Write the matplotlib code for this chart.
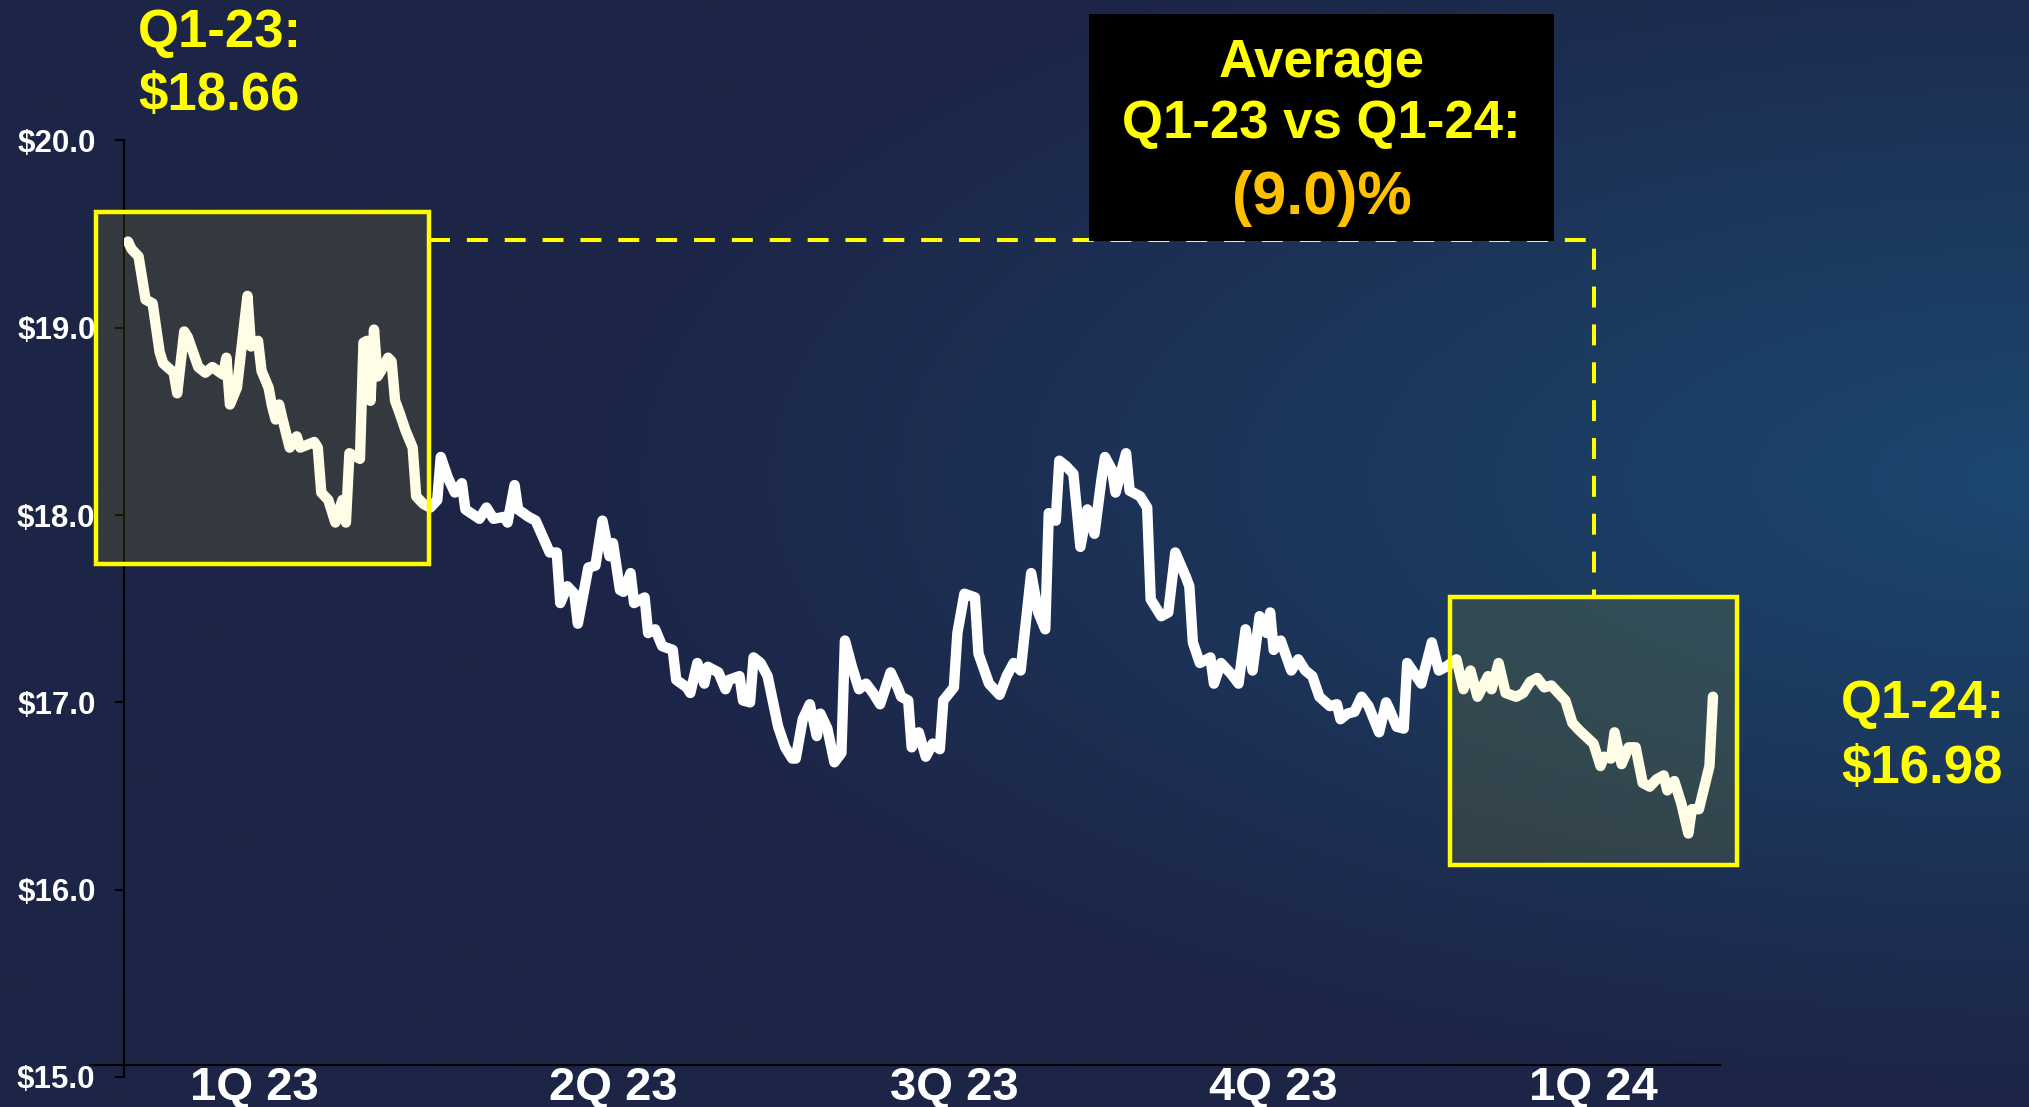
import numpy as np
import matplotlib

matplotlib.use("Agg")
import matplotlib.pyplot as plt  # noqa: E402
from matplotlib.lines import Line2D  # noqa: E402
from matplotlib.patches import Rectangle  # noqa: E402
from matplotlib.transforms import blended_transform_factory  # noqa: E402

# calendar days since 1 Jan 2023 and the price on that day ($)
day = [
    0, 1, 3, 5, 7, 9, 10, 13, 14, 16, 17, 20, 22, 24, 27, 28, 29, 31, 34, 35,
    37, 38, 40, 41, 42, 43, 44, 46, 48, 49, 53, 54, 55, 57, 59, 61, 62, 63, 66, 67,
    68, 69, 70, 71, 72, 74, 75, 76, 77, 79, 81, 82, 84, 86, 88, 89,
    91, 93, 95, 96, 100, 102, 104, 107, 108, 110, 111, 114, 116, 120, 122, 123, 125, 127, 128, 131,
    133, 135, 137, 138, 140, 141, 143, 144, 147, 148, 150, 152, 155, 156, 159, 160, 162, 164, 165, 168,
    170, 171, 174, 175, 177, 178, 180, 182, 183, 185, 187, 189, 190, 192, 194, 196, 197, 199, 201, 203,
    204, 206, 208, 210, 212, 214, 217, 219, 220, 222, 223, 225, 227, 229, 231, 232, 235, 236, 238, 241,
    242, 245, 248, 250, 252, 254, 257, 259, 261, 262, 264, 265, 267, 269, 271, 273, 275, 277, 278, 280,
    281, 284, 285, 288, 290, 291, 294, 296, 298, 301, 302, 303, 305, 308, 309, 311, 314, 316, 318, 320,
    322, 324, 325, 326, 328, 331, 333, 335, 337, 339, 342, 344, 345, 347, 349, 351, 353, 356, 358, 359,
    361, 363, 364, 368, 371, 373, 375, 378, 380, 382, 384, 387, 388, 390, 392, 395, 397, 399, 401, 403,
    405, 407, 409, 411, 413, 417, 419, 420, 422, 423, 425, 427, 429, 431, 433, 435, 437, 438, 440, 442,
    444, 445, 447, 450, 451,
]
price = [
    19.46, 19.42, 19.38, 19.15, 19.13, 18.87, 18.81, 18.76, 18.65, 18.98, 18.95, 18.79, 18.76, 18.79, 18.75, 18.84, 18.59, 18.68, 19.17, 18.90,
    18.93, 18.77, 18.68, 18.58, 18.51, 18.59, 18.51, 18.36, 18.42, 18.36, 18.39, 18.36, 18.12, 18.08, 17.96, 18.08, 17.96, 18.33, 18.30, 18.92,
    18.93, 18.61, 18.99, 18.74, 18.77, 18.84, 18.82, 18.61, 18.56, 18.45, 18.36, 18.10, 18.06, 18.04, 18.08, 18.31,
    18.20, 18.12, 18.17, 18.03, 17.98, 18.04, 17.98, 17.99, 17.96, 18.16, 18.03, 17.99, 17.97, 17.80, 17.80, 17.53, 17.62, 17.58, 17.42, 17.72,
    17.73, 17.97, 17.78, 17.85, 17.60, 17.59, 17.69, 17.53, 17.56, 17.37, 17.39, 17.30, 17.28, 17.12, 17.08, 17.05, 17.21, 17.10, 17.19, 17.16,
    17.07, 17.12, 17.14, 17.01, 17.00, 17.24, 17.21, 17.14, 17.05, 16.87, 16.76, 16.70, 16.70, 16.91, 16.99, 16.82, 16.94, 16.86, 16.68, 16.73,
    17.33, 17.19, 17.07, 17.10, 17.05, 16.99, 17.16, 17.08, 17.03, 17.01, 16.76, 16.84, 16.71, 16.78, 16.75, 17.01, 17.08, 17.37, 17.58, 17.56,
    17.26, 17.10, 17.04, 17.14, 17.21, 17.17, 17.69, 17.48, 17.39, 18.01, 17.97, 18.29, 18.26, 18.22, 17.83, 18.03, 17.90, 18.19, 18.31, 18.24,
    18.12, 18.33, 18.13, 18.10, 18.04, 17.55, 17.46, 17.48, 17.80, 17.67, 17.62, 17.32, 17.21, 17.24, 17.10, 17.21, 17.15, 17.10, 17.39, 17.17,
    17.46, 17.37, 17.48, 17.28, 17.33, 17.17, 17.23, 17.17, 17.14, 17.03, 16.98, 16.99, 16.91, 16.94, 16.95, 17.03, 16.98, 16.84, 17.00, 16.96,
    16.87, 16.86, 17.21, 17.10, 17.32, 17.17, 17.19, 17.23, 17.07, 17.17, 17.03, 17.14, 17.07, 17.21, 17.05, 17.03, 17.05, 17.11, 17.13, 17.08,
    17.09, 17.05, 17.01, 16.89, 16.85, 16.78, 16.66, 16.71, 16.70, 16.84, 16.67, 16.76, 16.76, 16.57, 16.55, 16.59, 16.61, 16.53, 16.58, 16.46,
    16.30, 16.43, 16.43, 16.66, 17.03,
]

quarter_labels = ["1Q 23", "2Q 23", "3Q 23", "4Q 23", "1Q 24"]
quarter_label_day = [36, 138, 235, 326, 417]
y_ticks = [15, 16, 17, 18, 19, 20]

q1_23_avg = 18.66
q1_24_avg = 16.98

YELLOW = "#FFFF00"
ORANGE = "#FFC000"
W, H = 2029, 1107

plt.rcParams["font.family"] = ["Liberation Sans", "DejaVu Sans"]
plt.rcParams["font.weight"] = "bold"


def fx(px):
    return px / W


def fy(px):
    return 1 - px / H


fig = plt.figure(figsize=(W / 100, H / 100), dpi=100)

# navy backdrop with a soft blue glow on the right
bg = fig.add_axes([0, 0, 1, 1], zorder=-10)
gx, gy = np.meshgrid(np.linspace(0, W, W // 4), np.linspace(0, H, H // 4))
t = np.clip(np.sqrt(((gx - 2060) / 1500) ** 2 + ((gy - 480) / 620) ** 2), 0, 1)
inner = np.array([27, 72, 112]) / 255
outer = np.array([29, 37, 71]) / 255
grad = inner + (outer - inner) * t[..., None]
bg.imshow(grad, extent=(0, W, H, 0), aspect="auto", interpolation="bilinear")
bg.set_xlim(0, W)
bg.set_ylim(H, 0)
bg.axis("off")

ax = fig.add_axes([fx(124), fy(1077), fx(1720 - 124), 936.6 / H])
ax.set_facecolor("none")
ax.plot(day, price, color="white", lw=7.5, solid_joinstyle="round", solid_capstyle="round", zorder=3)
ax.set_xlim(-1.14, 453.0)
ax.set_ylim(15, 20)

for s in ("top", "right", "bottom"):
    ax.spines[s].set_visible(False)
ax.spines["left"].set_color("black")
ax.spines["left"].set_linewidth(1.5)
ax.set_xticks([])
ax.set_yticks(y_ticks)
ax.set_yticklabels([f"${v:.1f}" for v in y_ticks])
ax.tick_params(axis="y", length=6.5, width=1.5, color="black", pad=14,
               labelsize=22.5, labelcolor="white")

# category axis line sits a touch above the $15 tick
fig.add_artist(Line2D([fx(90), fx(1720)], [fy(1065), fy(1065)], color="black", lw=1.5))

qtrans = blended_transform_factory(ax.transData, fig.transFigure)
for lab, d in zip(quarter_labels, quarter_label_day):
    ax.text(d, fy(1100), lab, transform=qtrans, ha="center", va="baseline",
            fontsize=34, color="white", fontweight="bold", clip_on=False)

# highlight windows for the two first quarters
q1_23_box = (-9.1, 85.7, 17.74, 19.62)
q1_24_box = (376.2, 457.9, 16.13, 17.56)
for x0, x1, y0, y1 in (q1_23_box, q1_24_box):
    ax.add_patch(Rectangle((x0, y0), x1 - x0, y1 - y0, facecolor=(1, 0.95, 0, 0.1),
                           edgecolor=YELLOW, lw=3.2, zorder=4, clip_on=False))

ref_level = 19.47
mid24 = (q1_24_box[0] + q1_24_box[1]) / 2
ax.plot([q1_23_box[1], mid24, mid24], [ref_level, ref_level, q1_24_box[3]],
        color=YELLOW, lw=2.9, dashes=(5.2, 4.2), zorder=2, clip_on=False)

# callout box
fig.add_artist(Rectangle((fx(1089), fy(241)), fx(1554 - 1089), (241 - 14) / H,
                         transform=fig.transFigure, facecolor="black", edgecolor="none", zorder=5))
pct = (q1_24_avg / q1_23_avg - 1) * 100
pct_txt = f"({abs(pct):.1f})%" if pct < 0 else f"{pct:.1f}%"
cx = fx(1321.5)
fig.text(cx, fy(77), "Average", ha="center", va="baseline", fontsize=38, color=YELLOW, zorder=6)
fig.text(cx, fy(138), "Q1-23 vs Q1-24:", ha="center", va="baseline", fontsize=38, color=YELLOW, zorder=6)
fig.text(cx, fy(214), pct_txt, ha="center", va="baseline", fontsize=44, color=ORANGE, zorder=6)

fig.text(fx(138), fy(47), "Q1-23:", ha="left", va="baseline", fontsize=38, color=YELLOW)
fig.text(fx(138), fy(110), f"${q1_23_avg:.2f}", ha="left", va="baseline", fontsize=38, color=YELLOW)
fig.text(fx(1841), fy(718), "Q1-24:", ha="left", va="baseline", fontsize=38, color=YELLOW)
fig.text(fx(1841), fy(783), f"${q1_24_avg:.2f}", ha="left", va="baseline", fontsize=38, color=YELLOW)

fig.savefig("out.png", dpi=100)
